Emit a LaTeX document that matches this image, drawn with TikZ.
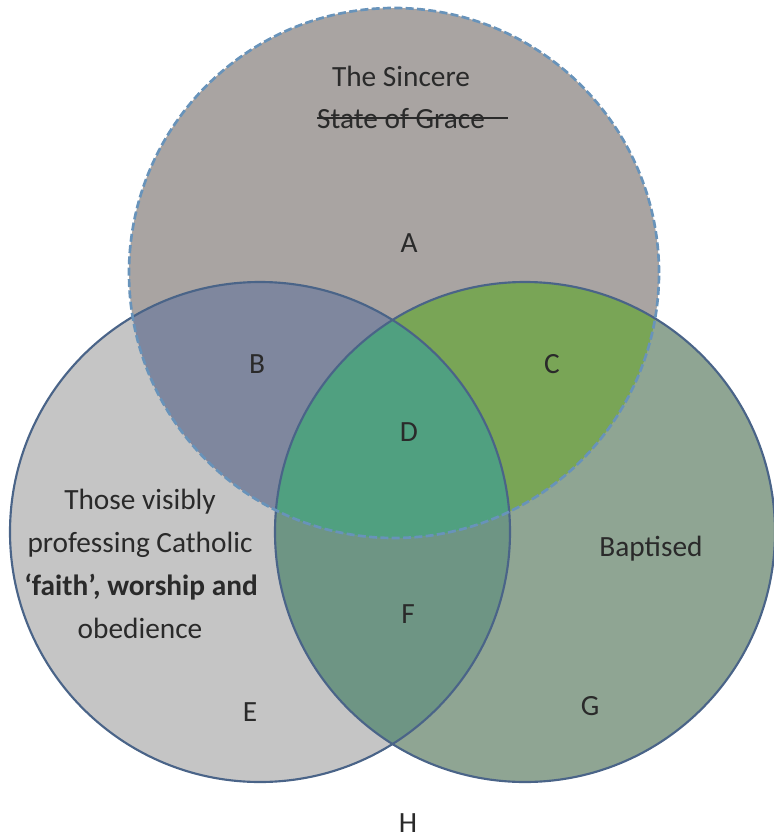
\documentclass[tikz,border=0pt]{standalone}
\usepackage{fontspec}
\setmainfont{Carlito}

\definecolor{a-fill}{HTML}{A9A4A2}
\definecolor{b-fill}{HTML}{7F879E}
\definecolor{c-fill}{HTML}{79A556}
\definecolor{d-fill}{HTML}{50A080}
\definecolor{e-fill}{HTML}{C5C5C5}
\definecolor{f-fill}{HTML}{6E9584}
\definecolor{g-fill}{HTML}{8FA593}
\definecolor{side-col}{HTML}{4A6488}
\definecolor{top-col}{HTML}{6893BA}
\definecolor{txt-col}{HTML}{2A2A2A}

\begin{document}
\begin{tikzpicture}[x=0.75pt,y=-0.75pt]
	\def \rtop{198.75pt}
	\def \rside{187.5pt}
	\tikzstyle{lbl}=[font=\fontsize{22}{30}\selectfont,text=txt-col,inner sep=0pt,anchor=base]
	\tikzstyle{side-line}=[draw=side-col,line width=1.6pt]
	\tikzstyle{top-line}=[draw=top-col,line width=2pt,dash pattern=on 6pt off 2.5pt]
	\useasboundingbox (0,0) rectangle (774,839);

	% circle centres
	\coordinate (top-c)		at (394,273);
	\coordinate (left-c)	at (260,532);
	\coordinate (right-c)	at (525,532);

	% regions
	\fill[e-fill] (left-c) circle[radius=\rside];
	\fill[g-fill] (right-c) circle[radius=\rside];
	\begin{scope}
		\clip (left-c) circle[radius=\rside];
		\fill[f-fill] (right-c) circle[radius=\rside];
	\end{scope}
	\fill[a-fill] (top-c) circle[radius=\rtop];
	\begin{scope}
		\clip (top-c) circle[radius=\rtop];
		\fill[b-fill] (left-c) circle[radius=\rside];
		\fill[c-fill] (right-c) circle[radius=\rside];
		\clip (left-c) circle[radius=\rside];
		\fill[d-fill] (right-c) circle[radius=\rside];
	\end{scope}

	% outlines
	\draw[side-line] (left-c) circle[radius=\rside];
	\draw[side-line] (right-c) circle[radius=\rside];
	\draw[top-line] (top-c) circle[radius=\rtop];

	% set names
	\node[lbl] (sincere)	at (401,86)		{The Sincere};
	\node[lbl] (grace)		at (401,128)	{State of Grace};
	\coordinate (strike-end) at (508,118);
	\draw[txt-col,line width=1.3pt] (grace.west |- strike-end) -- (strike-end);

	\node[lbl] (visibly)	at (140,509)	{Those visibly};
	\node[lbl] (catholic)	at (140,552)	{professing Catholic};
	\node[lbl] (faith)		at (141,595)	{\bfseries ‘faith’, worship and};
	\node[lbl] (obedience)	at (140,638)	{obedience};

	\node[lbl] (baptised)	at (651,556)	{Baptised};

	% region letters
	\node[lbl] (A)	at (409,252)	{A};
	\node[lbl] (B)	at (257,373)	{B};
	\node[lbl] (C)	at (552,373)	{C};
	\node[lbl] (D)	at (409,441)	{D};
	\node[lbl] (E)	at (250,721)	{E};
	\node[lbl] (F)	at (408,623)	{F};
	\node[lbl] (G)	at (590,715)	{G};
	\node[lbl] (H)	at (408,832)	{H};
\end{tikzpicture}
\end{document}
